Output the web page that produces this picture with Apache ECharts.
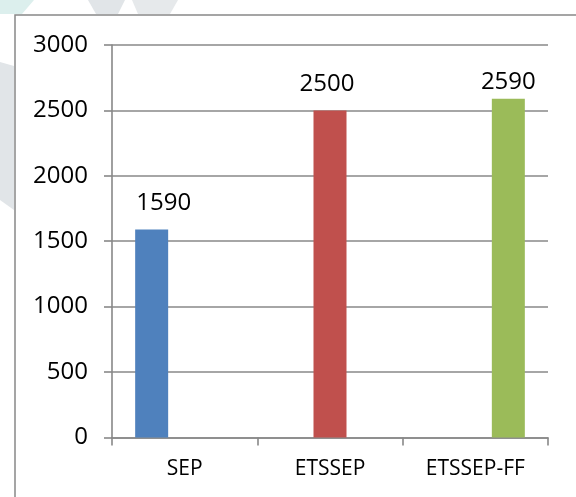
<!DOCTYPE html>
<html>
<head>
<meta charset="utf-8">
<script src="https://cdn.jsdelivr.net/npm/echarts@6/dist/echarts.min.js"></script>
<style>
  html, body { margin: 0; padding: 0; background: #ffffff; }
  #chart { width: 576px; height: 497px; }
</style>
</head>
<body>
<div id="chart"></div>
<script>
// Chart data
const categories = ['SEP', 'ETSSEP', 'ETSSEP-FF'];
const values = [1590, 2500, 2590];
const yMin = 0;
const yMax = 3000;
const yStep = 500;

const barColors = ['#4F81BD', '#C0504D', '#9BBB59'];
// per-bar nudges of the value labels
const labelNudges = [[12, 0], [-3, 0], [0, 10]];

const chart = echarts.init(document.getElementById('chart'), null, { renderer: 'canvas' });

// one series per category so each bar keeps its own slot in the cluster
const series = categories.map((cat, i) => ({
  name: cat,
  type: 'bar',
  barWidth: 33,
  barGap: '0%',
  itemStyle: { color: barColors[i] },
  label: {
    show: true,
    position: 'top',
    distance: 14,
    offset: labelNudges[i],
    color: '#000000',
    fontFamily: 'Open Sans',
    fontSize: 24
  },
  data: categories.map((c, j) => (j === i ? values[i] : null))
}));

const axisGray = '#888888';

const option = {
  backgroundColor: '#ffffff',
  animation: false,
  grid: { left: 112, top: 45, width: 436, height: 392.4, containLabel: false },
  xAxis: {
    type: 'category',
    data: categories,
    axisLine: { lineStyle: { color: axisGray, width: 1.6 } },
    axisTick: { show: true, length: 8, lineStyle: { color: axisGray, width: 1.6 } },
    axisLabel: { color: '#000000', fontFamily: 'Open Sans', fontSize: 21, margin: 21 }
  },
  yAxis: {
    type: 'value',
    min: yMin,
    max: yMax,
    interval: yStep,
    axisLine: { show: true, lineStyle: { color: axisGray, width: 1.6 } },
    axisTick: { show: true, length: 8, lineStyle: { color: axisGray, width: 1.6 } },
    axisLabel: {
      color: '#000000', fontFamily: 'Open Sans', fontSize: 24, margin: 24,
      formatter: (v) => String(v)
    },
    splitLine: { show: true, lineStyle: { color: axisGray, width: 1.6 } }
  },
  graphic: [
    // faint page decoration showing outside the chart frame
    { type: 'polygon', z: -10, shape: { points: [[0, 0], [34, 0], [22, 14], [0, 14]] }, style: { fill: '#dcefed' } },
    { type: 'polygon', z: -10, shape: { points: [[88, 0], [125, 0], [118, 14], [96, 14]] }, style: { fill: '#e1e5e8' } },
    { type: 'polygon', z: -10, shape: { points: [[132, 0], [178, 0], [170, 14], [138, 14]] }, style: { fill: '#e6e9eb' } },
    { type: 'polygon', z: -10, shape: { points: [[0, 62], [14, 66], [14, 210], [0, 200]] }, style: { fill: '#e1e5e8' } },
    // white area inside the frame
    {
      type: 'rect', z: -5,
      shape: { x: 15, y: 15, width: 620, height: 560 },
      style: { fill: '#ffffff' }
    },
    // chart frame
    {
      type: 'rect', z: 100,
      shape: { x: 15, y: 15, width: 620, height: 560 },
      style: { fill: 'none', stroke: axisGray, lineWidth: 1.5 }
    }
  ],
  series: series
};

chart.setOption(option);
</script>
</body>
</html>
